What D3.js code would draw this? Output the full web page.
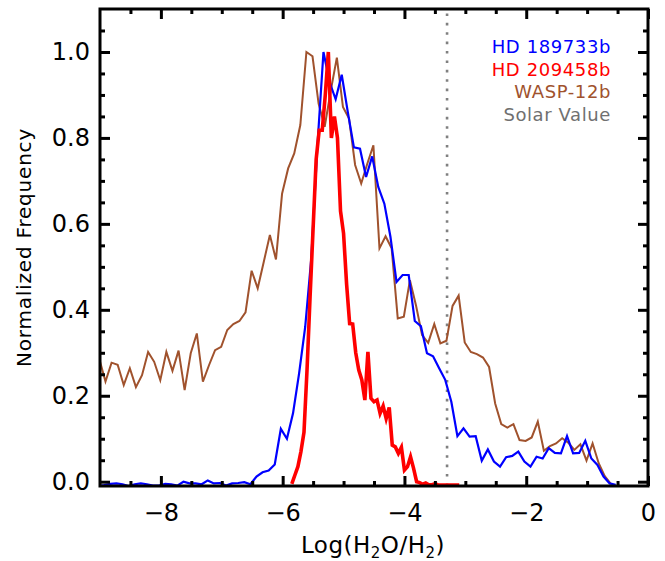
<!DOCTYPE html>
<html>
<head>
<meta charset="utf-8">
<script src="https://cdn.jsdelivr.net/npm/d3@7"></script>
<style>
  body { margin: 0; background: #fff; }
  svg text { font-family: "DejaVu Sans", sans-serif; }
</style>
</head>
<body>
<svg width="665" height="561"></svg>
<script>
// Histograms of log(H2O/H2), each normalised to its peak
const hd189733bStart = -9.03, hd189733bStep = 0.1;
const hd189733b = [
  -0.010, -0.008, -0.005, -0.004, -0.006, -0.010, -0.006, -0.004, -0.006, -0.009,
  -0.009, -0.005, -0.006, -0.009, 0.000, -0.004, -0.004, -0.006, 0.003, -0.004,
  -0.003, -0.009, -0.004, -0.003, -0.001, -0.006, 0.012, 0.022, 0.026, 0.040,
  0.123, 0.100, 0.159, 0.252, 0.360, 0.520, 0.780, 1.000, 0.930, 0.890,
  0.947, 0.860, 0.778, 0.775, 0.709, 0.757, 0.686, 0.647, 0.570, 0.465,
  0.481, 0.481, 0.374, 0.362, 0.299, 0.292, 0.264, 0.237, 0.186, 0.106,
  0.124, 0.105, 0.106, 0.049, 0.075, 0.047, 0.035, 0.057, 0.060, 0.070,
  0.047, 0.035, 0.058, 0.054, 0.078, 0.067, 0.066, 0.106, 0.066, 0.067,
  0.095, 0.054, 0.039, 0.012, -0.004, -0.007
];

const hd209458bStart = -5.85, hd209458bStep = 0.05;
const hd209458b = [
  -0.005, 0.015, 0.035, 0.070, 0.115, 0.260, 0.430, 0.590, 0.750, 0.818,
  0.818, 0.900, 1.000, 0.800, 0.850, 0.800, 0.630, 0.578, 0.460, 0.368,
  0.367, 0.300, 0.260, 0.237, 0.190, 0.302, 0.194, 0.186, 0.190, 0.159,
  0.176, 0.147, 0.173, 0.085, 0.081, 0.066, 0.080, 0.027, 0.035, 0.058,
  0.031, 0.000, -0.002, -0.006, -0.003, -0.007, -0.007, -0.005, -0.007, -0.008,
  -0.008, -0.008, -0.008, -0.008, -0.008, -0.008
];

const wasp12bStart = -9.01, wasp12bStep = 0.1;
const wasp12b = [
  0.285, 0.233, 0.277, 0.272, 0.225, 0.264, 0.220, 0.248, 0.302, 0.279,
  0.236, 0.302, 0.258, 0.305, 0.213, 0.299, 0.345, 0.233, 0.271, 0.306,
  0.314, 0.353, 0.367, 0.374, 0.394, 0.491, 0.450, 0.512, 0.574, 0.517,
  0.670, 0.729, 0.764, 0.830, 1.000, 0.990, 0.880, 0.826, 0.910, 0.987,
  0.872, 0.845, 0.737, 0.694, 0.740, 0.783, 0.543, 0.571, 0.543, 0.380,
  0.384, 0.469, 0.410, 0.341, 0.323, 0.367, 0.322, 0.328, 0.409, 0.433,
  0.324, 0.302, 0.297, 0.289, 0.267, 0.182, 0.134, 0.126, 0.134, 0.097,
  0.095, 0.103, 0.140, 0.072, 0.083, 0.089, 0.101, 0.091, 0.074, 0.087,
  0.049, 0.089, 0.043, 0.013, -0.005
];

const solarValue = -3.3;

const xMajor = [-8, -6, -4, -2, 0];
const xMinor = [-8.5, -7.5, -7, -6.5, -5.5, -5, -4.5, -3.5, -3, -2.5, -1.5, -1, -0.5];
const yMajor = [0, 0.2, 0.4, 0.6, 0.8, 1.0];
const yMinor = [0.05, 0.1, 0.15, 0.25, 0.3, 0.35, 0.45, 0.5, 0.55, 0.65, 0.7, 0.75, 0.85, 0.9, 0.95, 1.05];

const legend = [
  { name: "HD 189733b", color: "#0000ff" },
  { name: "HD 209458b", color: "#ff0000" },
  { name: "WASP-12b", color: "#a0522d" },
  { name: "Solar Value", color: "#707070" }
];

const svg = d3.select("svg");
const plotLeft = 100, plotRight = 648, plotTop = 9, plotBottom = 486;

const x = d3.scaleLinear().domain([-9, 0]).range([plotLeft, plotRight]);
const y = d3.scaleLinear().domain([-0.01, 1.1]).range([plotBottom, plotTop]);

// clip curves to the frame
svg.append("clipPath").attr("id", "plot")
  .append("rect")
  .attr("x", plotLeft).attr("y", plotTop)
  .attr("width", plotRight - plotLeft).attr("height", plotBottom - plotTop);

const plot = svg.append("g").attr("clip-path", "url(#plot)");

// solar value line
plot.append("line")
  .attr("x1", x(solarValue)).attr("x2", x(solarValue))
  .attr("y1", y(-0.01)).attr("y2", y(1.1))
  .attr("stroke", "#808080")
  .attr("stroke-width", 2.6)
  .attr("stroke-dasharray", "2.6,6.8");

function curve(values, start, step, color, width) {
  const line = d3.line()
    .x(function(d, i) { return x(start + i * step); })
    .y(function(d) { return y(d); });
  plot.append("path")
    .datum(values)
    .attr("fill", "none")
    .attr("stroke", color)
    .attr("stroke-width", width)
    .attr("stroke-linejoin", "miter")
    .attr("d", line);
}

curve(wasp12b, wasp12bStart, wasp12bStep, "#a0522d", 2);
curve(hd189733b, hd189733bStart, hd189733bStep, "#0000ff", 2.2);
curve(hd209458b, hd209458bStart, hd209458bStep, "#ff0000", 3.6);

// axes: ticks point inward on all four sides
function styleAxis(g) {
  g.select(".domain").remove();
  g.selectAll("line").attr("stroke", "#000").attr("stroke-width", 3);
  g.selectAll("text").attr("fill", "#000").style("font-size", "24px");
}

svg.append("g").attr("transform", "translate(0," + plotBottom + ")")
  .call(d3.axisBottom(x).tickValues(xMajor).tickSize(-10).tickSizeOuter(0).tickPadding(18))
  .call(styleAxis);
svg.append("g").attr("transform", "translate(0," + plotBottom + ")")
  .call(d3.axisBottom(x).tickValues(xMinor).tickSize(-5).tickSizeOuter(0).tickFormat(""))
  .call(styleAxis);
svg.append("g").attr("transform", "translate(0," + plotTop + ")")
  .call(d3.axisTop(x).tickValues(xMajor).tickSize(-10).tickSizeOuter(0).tickFormat(""))
  .call(styleAxis);
svg.append("g").attr("transform", "translate(0," + plotTop + ")")
  .call(d3.axisTop(x).tickValues(xMinor).tickSize(-5).tickSizeOuter(0).tickFormat(""))
  .call(styleAxis);

svg.append("g").attr("transform", "translate(" + plotLeft + ",0)")
  .call(d3.axisLeft(y).tickValues(yMajor).tickSize(-10).tickSizeOuter(0).tickPadding(10).tickFormat(d3.format(".1f")))
  .call(styleAxis);
svg.append("g").attr("transform", "translate(" + plotLeft + ",0)")
  .call(d3.axisLeft(y).tickValues(yMinor).tickSize(-5).tickSizeOuter(0).tickFormat(""))
  .call(styleAxis);
svg.append("g").attr("transform", "translate(" + plotRight + ",0)")
  .call(d3.axisRight(y).tickValues(yMajor).tickSize(-10).tickSizeOuter(0).tickFormat(""))
  .call(styleAxis);
svg.append("g").attr("transform", "translate(" + plotRight + ",0)")
  .call(d3.axisRight(y).tickValues(yMinor).tickSize(-5).tickSizeOuter(0).tickFormat(""))
  .call(styleAxis);

// frame
svg.append("rect")
  .attr("x", plotLeft).attr("y", plotTop)
  .attr("width", plotRight - plotLeft).attr("height", plotBottom - plotTop)
  .attr("fill", "none")
  .attr("stroke", "#000")
  .attr("stroke-width", 3);

// axis titles
const xTitle = svg.append("text")
  .attr("x", 373)
  .attr("y", 553)
  .attr("text-anchor", "middle")
  .style("font-size", "23px")
  .style("letter-spacing", "0.5px");
xTitle.append("tspan").text("Log(H");
xTitle.append("tspan").attr("dy", 5).style("font-size", "15px").text("2");
xTitle.append("tspan").attr("dy", -5).text("O/H");
xTitle.append("tspan").attr("dy", 5).style("font-size", "15px").text("2");
xTitle.append("tspan").attr("dy", -5).text(")");

svg.append("text")
  .attr("transform", "translate(31," + (plotTop + plotBottom) / 2 + ") rotate(-90)")
  .attr("text-anchor", "middle")
  .style("font-size", "20px")
  .style("letter-spacing", "0.8px")
  .text("Normalized Frequency");

// legend
svg.selectAll(".legend")
  .data(legend)
  .enter().append("text")
  .attr("class", "legend")
  .attr("x", 611)
  .attr("y", function(d, i) { return 53 + i * 22.7; })
  .attr("text-anchor", "end")
  .attr("fill", function(d) { return d.color; })
  .style("font-size", "18px")
  .style("letter-spacing", "0.6px")
  .text(function(d) { return d.name; });
</script>
</body>
</html>
